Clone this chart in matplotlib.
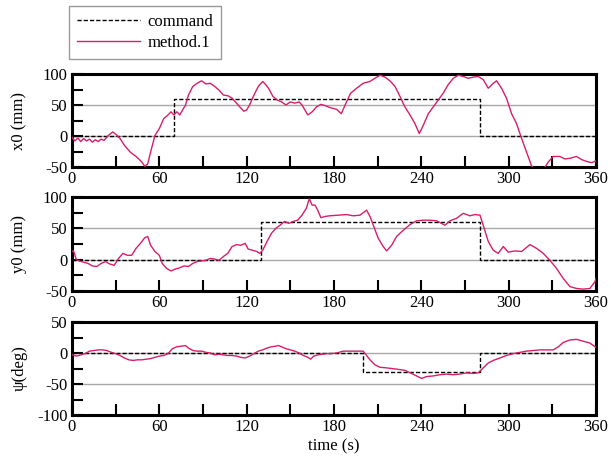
import matplotlib
matplotlib.use("Agg")
import matplotlib.pyplot as plt
from matplotlib.ticker import MultipleLocator

plt.rcParams['font.family'] = ['Liberation Serif', 'DejaVu Serif']
plt.rcParams['axes.unicode_minus'] = False

# ---- command signals (step times / levels) ----
cmd_x_t = [0, 70, 70, 280, 280, 360]
cmd_x_v = [0, 0, 60, 60, 0, 0]
cmd_y_t = [0, 130, 130, 280, 280, 360]
cmd_y_v = [0, 0, 60, 60, 0, 0]
cmd_p_t = [0, 200, 200, 280, 280, 360]
cmd_p_v = [0, 0, -30, -30, 0, 0]

# ---- method.1 responses ----
x0_t = [0, 2, 4, 6, 8, 10, 12, 14, 16, 18, 20, 22, 25, 28, 30, 33, 36, 40, 44, 48, 50, 52, 54, 57, 60, 63, 66,
        68, 70, 72, 74, 76, 78, 80, 83, 86, 89, 92, 95, 98, 101, 104, 107, 110, 113, 116, 118,
        120, 122, 125, 128, 131, 133, 135, 138, 141, 144, 147, 150, 153, 156, 158, 160, 162, 165, 168, 171,
        174, 177, 181.8, 185, 188.6, 191.4, 195.5, 200, 204.7, 208, 211.6, 215, 218.4, 221.9, 225.3, 228.7, 232.2, 235.6, 238.6, 241.3,
        244.8, 248.2, 251.6, 255, 258.5, 261.9, 265.4, 268.8, 272.2, 275.7, 279.1, 282.5, 286, 289.4, 291.7, 295.1, 298.5, 302, 305.4, 308.9,
        312.3, 315.7, 318, 323.7, 327.2, 330.6, 335.2, 338.6, 342.1, 346.6, 350.1, 353.5, 357, 360]
x0_v = [-2, -8, -3, -9, -4, -8, -5, -10, -6, -9, -5, -7, 1, 6.5, 3, -4, -15, -26, -33, -42, -49, -45, -26, 1, 12, 28, 34,
        39, 34, 39, 34, 42, 50, 66, 80, 85, 89, 84, 85, 80, 74, 66, 65, 61, 53, 45, 40,
        42, 50, 66, 80, 88, 83, 77, 64, 58, 55, 50, 55, 53, 55, 50, 42, 34, 39, 47, 51,
        49, 46, 43, 36, 55, 69, 77, 85, 88, 93, 98, 95, 89, 80, 64, 47, 34, 20, 4, 17,
        36, 47, 58, 69, 83, 93, 98, 96, 93, 95, 96, 91, 77, 85, 89, 77, 61, 36, 20, -4,
        -26, -48, -55, -55, -42, -33, -33, -37, -36, -33, -38, -41, -43, -40]

y0_t = [0, 1, 3, 5, 8, 11, 14, 17, 20, 23, 26, 29, 32, 35, 38, 41, 44, 47, 50, 52,
        54, 57, 60, 62, 65, 68, 71, 74, 77, 80, 83, 86, 89, 92, 95, 98, 101, 104, 107, 110,
        113, 116, 119, 121, 124, 127, 129, 131, 134, 137, 140, 143, 146, 149, 152, 155, 158, 161, 163, 165,
        167, 169, 171, 174, 177, 183, 188.6, 193.2, 197.8, 202.4, 204.7, 207, 210.4, 213.8, 216.1, 219.6, 223, 227.6, 232.2, 236.7,
        241.3, 245.9, 250.5, 256.2, 259.6, 264.2, 268.8, 273.4, 276.8, 280.3, 282.5, 286, 289.4, 292.8, 296.3, 299.7, 304.3, 308.9, 314.6, 319.2,
        323.8, 328.3, 332.9, 337.5, 342.1, 346.7, 351.2, 355.8, 359.3, 360]
y0_v = [13, 14, 0, -2, -4, -6, -10, -11, -6, -3, -7, -9, 2, 10, 7, 7, 18, 26, 35, 37,
        23, 13, 7, -6, -14, -18, -15, -13, -10, -11, -6, -3, -2, -1, 2, 1, -1, 5, 10, 21,
        24, 23, 26, 17, 15, 13, 10, 15, 29, 42, 50, 55, 61, 58, 61, 63, 71, 82, 97, 87,
        87, 78, 67, 69, 70, 71, 72, 70, 71, 79, 69, 55, 34, 21, 14, 23, 37, 47, 56, 62,
        63, 63, 62, 55, 62, 66, 74, 70, 72, 71, 55, 29, 15, 10, 21, 12, 14, 13, 24, 18,
        10, -1, -14, -30, -43, -46, -47, -46, -35, -30]

psi_t = [0, 3, 6, 9, 12, 15, 18, 21, 24, 27, 30, 33, 36, 39, 42, 45, 48, 51, 54, 57,
         60, 63, 66, 69, 72, 75, 78, 80, 83, 86, 89, 92, 95, 98, 101, 104, 107, 110, 113, 116,
         119, 122, 125, 128, 131, 134, 137, 140, 142, 144, 147, 150, 153, 156, 159, 162, 164, 166, 169, 172,
         175, 178, 181.8, 186.4, 190.9, 195.5, 200, 202.4, 204.7, 208.1, 211.6, 216.1, 223, 228.7, 233.3, 236.7, 240.2, 243.6, 248.2, 252.8,
         257.3, 261.9, 266.5, 271.1, 275.7, 279.1, 282.5, 286, 289.4, 294, 298.5, 303.1, 307.7, 312.3, 316.9, 321.5, 326, 330.6, 334.1, 337.5,
         342.1, 346.7, 351.2, 355.8, 360]
psi_v = [-3, -5, -3, -1, 3, 4, 5, 5, 4, 1, -1, -4, -8, -11, -12, -11, -11, -10, -9, -7,
         -5, -4, -1, 7, 10, 11, 12, 8, 4, 3, 3, 1, 0, -3, -2, -3, -4, -4, -5, -7,
         -8, -5, -1, 3, 5, 8, 10, 11, 12, 10, 7, 5, 3, 0, -4, -7, -10, -5, -3, -2,
         -1, -1, 0, 3, 3, 3, 3, -4, -11, -19, -23, -24, -26, -28, -33, -37, -41, -38, -37, -35,
         -34, -35, -34, -32, -33, -32, -24, -16, -12, -8, -4, -1, 1, 3, 4, 5, 5, 5, 10, 17,
         21, 22, 19, 16, 9]

xticks = [0, 60, 120, 180, 240, 300, 360]

fig = plt.figure(figsize=(6.11, 4.62), dpi=100)
W, H = 611, 462
left, right = 72, 596
panels = [
    (74, 167, cmd_x_t, cmd_x_v, x0_t, x0_v, (-50, 100), "x0 (mm)"),
    (197, 291, cmd_y_t, cmd_y_v, y0_t, y0_v, (-50, 100), "y0 (mm)"),
    (322, 415, cmd_p_t, cmd_p_v, psi_t, psi_v, (-100, 50), "ψ(deg)"),
]
red = '#d81e6a'
axes = []
for top, bot, ct, cv, t, v, ylim, lab in panels:
    ax = fig.add_axes([left / W, 1 - bot / H, (right - left) / W, (bot - top) / H])
    ax.plot(ct, cv, color='black', lw=1.0, ls=(0, (3, 1.5)), label='command', zorder=3)
    ax.plot(t, v, color=red, lw=1.0, label='method.1', zorder=4)
    ax.set_xlim(0, 360)
    ax.set_ylim(*ylim)
    ax.set_xticks(xticks)
    ax.xaxis.set_minor_locator(MultipleLocator(30))
    ax.yaxis.set_major_locator(MultipleLocator(50))
    ax.yaxis.set_minor_locator(MultipleLocator(25))
    ax.tick_params(which='both', direction='in', length=8, width=1.5, labelsize=12,
                   top=False, right=False, pad=3)
    ax.grid(True, axis='y', which='major', color='#a8a8a8', lw=1.0, zorder=1)
    for s in ax.spines.values():
        s.set_linewidth(2.2)
    ax.set_ylabel(lab, fontsize=12, labelpad=6)
    axes.append(ax)

axes[-1].set_xlabel("time (s)", fontsize=12, labelpad=2)
for ax in axes:
    ax.yaxis.set_label_coords(-0.085, 0.5)

h, l = axes[0].get_legend_handles_labels()
leg = fig.legend(h, l, loc='upper left', bbox_to_anchor=(69 / W, 1 - 6 / H),
                 borderaxespad=0, fontsize=12, frameon=True, fancybox=False,
                 edgecolor='#808080', handlelength=3.8, borderpad=0.45,
                 labelspacing=0.35, handletextpad=0.45)
leg.get_frame().set_linewidth(1.0)

fig.savefig("out.png", dpi=100)
